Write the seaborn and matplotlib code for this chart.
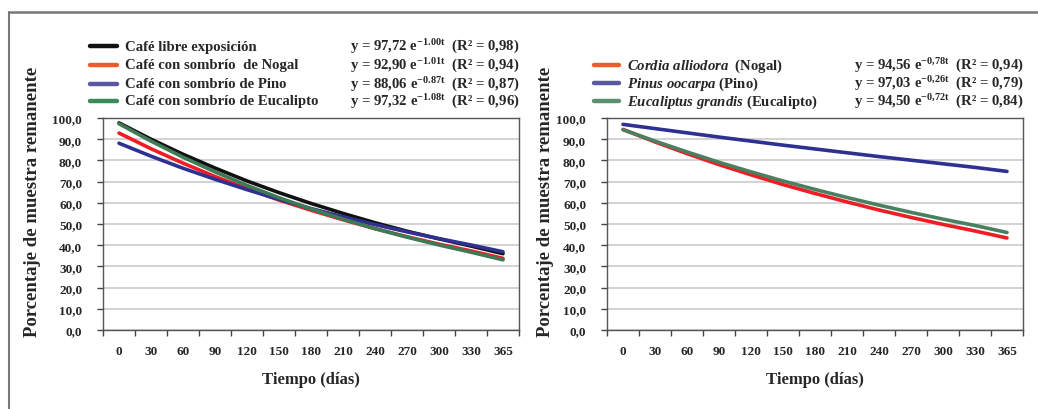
import numpy as np
import pandas as pd
import matplotlib
matplotlib.use('Agg')
import matplotlib.pyplot as plt
from matplotlib.lines import Line2D
from matplotlib.ticker import FixedLocator, FuncFormatter
import seaborn as sns

# Dati (percentuale di campione rimanente)
dias = ['0', '30', '60', '90', '120', '150', '180', '210', '240', '270', '300', '330', '365']

libre = [97.7, 90.0, 82.9, 76.4, 70.3, 64.8, 59.7, 55.0, 50.6, 46.6, 43.0, 39.6, 36.0]
nogal = [92.9, 85.5, 78.7, 72.4, 66.7, 61.3, 56.5, 52.0, 47.8, 44.0, 40.5, 37.3, 33.8]
pino = [88.1, 82.0, 76.3, 71.1, 66.2, 61.6, 57.3, 53.4, 49.7, 46.3, 43.1, 40.1, 36.9]
eucalipto = [97.3, 89.1, 81.5, 74.6, 68.2, 62.4, 57.1, 52.3, 47.8, 43.8, 40.1, 36.7, 33.1]

cordia = [94.6, 88.7, 83.2, 78.0, 73.2, 68.6, 64.4, 60.4, 56.6, 53.1, 49.8, 46.7, 43.4]
pinus = [97.0, 95.0, 93.0, 91.0, 89.1, 87.2, 85.4, 83.6, 81.8, 80.1, 78.4, 76.7, 74.8]
eucaliptus = [94.5, 89.1, 84.0, 79.1, 74.6, 70.3, 66.3, 62.5, 58.9, 55.5, 52.3, 49.3, 46.0]

series_izq = ['Café libre exposición', 'Café con sombrío  de Nogal',
              'Café con sombrío de Pino', 'Café con sombrío de Eucalipto']
ecuaciones_izq = [('97,72', '-1.00t', '0,98'), ('92,90', '-1.01t', '0,94'),
                  ('88,06', '-0.87t', '0,87'), ('97,32', '-1.08t', '0,96')]
series_der = [r'$\it{Cordia\ alliodora}$  (Nogal)', r'$\it{Pinus\ oocarpa}$ (Pino)',
              r'$\it{Eucaliptus\ grandis}$ (Eucalipto)']
ecuaciones_der = [('94,56', '-0{,}78t', '0,94'), ('97,03', '-0{,}26t', '0,79'),
                  ('94,50', '-0{,}72t', '0,84')]

colores_izq = ['#111111', '#ee1c25', '#2e3192', '#3d7a55']
colores_leg_izq = ['#111111', '#f15a29', '#5b57a0', '#3a8a5a']
colores_der = ['#ee1c25', '#2e3192', '#4a8060']
colores_leg_der = ['#f15a29', '#5b57a0', '#5a9070']

sns.set_style('white')
plt.rcParams['font.family'] = ['Liberation Serif', 'DejaVu Serif']
plt.rcParams['font.weight'] = 'bold'
plt.rcParams['mathtext.fontset'] = 'custom'
plt.rcParams['mathtext.rm'] = 'Liberation Serif:bold'
plt.rcParams['mathtext.it'] = 'Liberation Serif:bold:italic'
plt.rcParams['mathtext.bf'] = 'Liberation Serif:bold'
plt.rcParams['mathtext.default'] = 'rm'

W, H = 1038, 410
fig = plt.figure(figsize=(W / 100, H / 100), dpi=100)


def px_ax(x0, x1, y0, y1):
    return fig.add_axes([x0 / W, 1 - y1 / H, (x1 - x0) / W, (y1 - y0) / H])


ax1 = px_ax(103, 519, 119, 331)
ax2 = px_ax(607, 1023, 119, 331)

# dataframe lungo per seaborn
x = np.arange(len(dias))
df_izq = pd.DataFrame({'x': np.tile(x, 4),
                       'y': libre + nogal + pino + eucalipto,
                       'serie': np.repeat(series_izq, len(dias))})
df_der = pd.DataFrame({'x': np.tile(x, 3),
                       'y': cordia + pinus + eucaliptus,
                       'serie': np.repeat(series_der, len(dias))})

sns.lineplot(data=df_izq, x='x', y='y', hue='serie', palette=colores_izq,
             linewidth=2.6, legend=False, ax=ax1)
sns.lineplot(data=df_der, x='x', y='y', hue='serie', palette=colores_der,
             linewidth=2.6, legend=False, ax=ax2)

for ax, lx in ((ax1, -0.149), (ax2, -0.127)):
    ax.set_xlim(-0.5, len(dias) - 0.5)
    ax.set_ylim(0, 100)
    ax.set_yticks(np.arange(0, 101, 10))
    ax.yaxis.set_major_formatter(FuncFormatter(lambda v, p: f'{v:.1f}'.replace('.', ',')))
    ax.xaxis.set_major_locator(FixedLocator(np.arange(-0.5, len(dias), 1)))
    ax.xaxis.set_minor_locator(FixedLocator(x))
    ax.set_xticklabels([])
    ax.set_xticklabels(dias, minor=True)
    ax.tick_params(axis='x', which='major', direction='out', length=4, width=1,
                   color='#444444', bottom=True)
    ax.tick_params(axis='x', which='minor', length=0, pad=11, labelsize=9.5)
    ax.tick_params(axis='y', direction='out', length=4, width=1, color='#444444',
                   left=True, labelsize=9.5, pad=11)
    ax.grid(axis='y', color='#d4d4d4', linewidth=1.5)
    ax.set_axisbelow(True)
    for s in ax.spines.values():
        s.set_color('#555555')
        s.set_linewidth(1.0)
    ax.set_xlabel('Tiempo (días)', fontsize=12, fontweight='bold', labelpad=10)
    ax.set_ylabel('Porcentaje de muestra remanente', fontsize=13.5, fontweight='bold')
    ax.yaxis.set_label_coords(lx, 0.61)

# leggende scritte a mano come nell'originale
filas_izq = [47, 66, 85, 102]
for i, yy in enumerate(filas_izq):
    yf = 1 - yy / H
    fig.add_artist(Line2D([90 / W, 117 / W], [yf, yf], color=colores_leg_izq[i], lw=3.2))
    fig.text(125 / W, yf, series_izq[i], fontsize=10.6, fontweight='bold', va='center')
    a, b, r = ecuaciones_izq[i]
    fig.text(350 / W, yf, f'y = {a} e$^{{{b}}}$  (R² = {r})', fontsize=10.6,
             fontweight='bold', va='center')

filas_der = [66, 84, 102]
for i, yy in enumerate(filas_der):
    yf = 1 - yy / H
    fig.add_artist(Line2D([594 / W, 619 / W], [yf, yf], color=colores_leg_der[i], lw=3.2))
    fig.text(627 / W, yf, series_der[i], fontsize=10.6, fontweight='bold', va='center')
    a, b, r = ecuaciones_der[i]
    fig.text(854 / W, yf, f'y = {a} e$^{{{b}}}$  (R² = {r})', fontsize=10.6,
             fontweight='bold', va='center')

# cornice della figura (solo lato sinistro e superiore)
fig.add_artist(Line2D([9 / W, 9 / W], [0, 1 - 13 / H], color='#777777', lw=1.5))
fig.add_artist(Line2D([9 / W, 1], [1 - 13 / H, 1 - 13 / H], color='#777777', lw=1.8))

plt.savefig('out.png', dpi=100)
